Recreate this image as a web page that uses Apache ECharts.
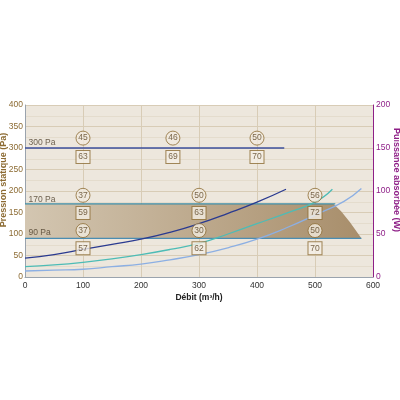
<!DOCTYPE html>
<html><head><meta charset="utf-8">
<script src="https://cdn.jsdelivr.net/npm/echarts@6/dist/echarts.min.js"></script>
<style>html,body{margin:0;padding:0;background:#fff}#c{width:400px;height:400px}</style>
</head><body><div id="c"></div>
<script>
// Data
const xTicks = [0,100,200,300,400,500,600];
const leftTicks = [0,50,100,150,200,250,300,350,400];
const rightTicks = [0,50,100,150,200];
// pressure levels (Pa)
const level300 = [[0,300],[447,300]];
const level170 = [[0,170],[535,170]];
const level90 = [[0,90],[580,90]];
// shaded operating band polygon (debit, Pa)
const bandPts = [[0,170],[532,170],[545,153],[560,128],[572,105],[580,90],[0,90]];
// power curves (W) vs debit
const curveDark = [[0,22],[50,26],[100,32],[150,38],[200,44],[250,52],[300,62],[350,74],[400,87],[450,102]];
const curveTeal = [[0,12],[50,14],[100,17],[150,21],[200,26],[250,32],[300,39],[350,50],[400,62],[450,74],[500,87],[530,102]];
const curveLight = [[0,7],[50,8],[100,9],[150,12],[200,15],[250,20],[300,26],[350,34],[400,44],[450,57],[500,72],[550,88],[580,103]];
// circled and boxed values [debit, Pa, label]
const circled = [[100,323,'45'],[255,323,'46'],[400,323,'50'],[100,190,'37'],[300,190,'50'],[500,190,'56'],[100,108,'37'],[300,108,'30'],[500,108,'50']];
const boxed = [[100,279,'63'],[255,279,'69'],[400,279,'70'],[100,149,'59'],[300,149,'63'],[500,149,'72'],[100,67,'57'],[300,67,'62'],[500,67,'70']];
const paLabels = [[6,313,'300 Pa'],[6,181,'170 Pa'],[6,103,'90 Pa']];
const axisNames = {x:'Débit (m³/h)', left:'Pression statique (Pa)', right:'Puissance absorbée (W)'};

const brown = '#8c6b33';
const purple = '#8e1f87';
const chart = echarts.init(document.getElementById('c'));
chart.setOption({
  animation:false,
  backgroundColor:'#fff',
  grid:{left:25,right:27,top:105,bottom:123,containLabel:false,outerBoundsMode:'none',backgroundColor:'#ede7dd',show:true,borderWidth:0},
  graphic:[
    {type:'text',x:4,y:180,rotation:Math.PI/2,z:10,
     style:{text:axisNames.left,fontSize:9,fontWeight:'bold',fill:brown,fontFamily:'Liberation Sans',align:'center',verticalAlign:'middle'}},
    {type:'text',x:396,y:180,rotation:-Math.PI/2,z:10,
     style:{text:axisNames.right,fontSize:9,fontWeight:'bold',fill:purple,fontFamily:'Liberation Sans',align:'center',verticalAlign:'middle'}}
  ],
  xAxis:{type:'value',min:0,max:600,interval:100,
    name:axisNames.x,nameLocation:'middle',nameGap:16,nameMoveOverlap:false,
    nameTextStyle:{fontSize:8.5,fontWeight:'bold',color:'#222',fontFamily:'Liberation Sans'},
    axisLine:{show:true,lineStyle:{color:'#9aa3ad',width:1}},axisTick:{show:false},
    axisLabel:{fontSize:8.5,color:'#333',margin:4,fontFamily:'Liberation Sans'},
    splitLine:{show:true,lineStyle:{color:'#d8ccb6',width:1}}},
  yAxis:[
    {type:'value',min:0,max:400,interval:50,position:'left',
     axisLine:{show:true,lineStyle:{color:'#9aa3ad'}},axisTick:{show:false},
     axisLabel:{fontSize:8.5,color:brown,margin:2,fontFamily:'Liberation Sans'},
     splitLine:{show:true,lineStyle:{color:'#d8ccb6'}},
     minorTick:{show:false,splitNumber:2},minorSplitLine:{show:true,lineStyle:{color:'#e4dccd'}}},
    {type:'value',min:0,max:200,interval:50,position:'right',
     axisLine:{show:true,lineStyle:{color:purple}},axisTick:{show:false},
     axisLabel:{fontSize:8.5,color:purple,margin:3,fontFamily:'Liberation Sans'},
     splitLine:{show:false}}
  ],
  series:[
    {type:'custom',yAxisIndex:0,z:1,silent:true,data:[0],
     renderItem:function(params,api){
       const pts = bandPts.map(p=>api.coord(p));
       return {type:'polygon',shape:{points:pts},
         style:{fill:new echarts.graphic.LinearGradient(0,0,1,0,[{offset:0,color:'#d3c6b1'},{offset:1,color:'#a88e6b'}])}};
     }},
    {type:'line',yAxisIndex:0,data:level300,symbol:'none',lineStyle:{color:'#3b4f9c',width:1.3},z:3},
    {type:'line',yAxisIndex:0,data:level170,symbol:'none',lineStyle:{color:'#3d8ca6',width:1.3},z:3},
    {type:'line',yAxisIndex:0,data:level90,symbol:'none',lineStyle:{color:'#4a8db2',width:1.3},z:3},
    {type:'line',yAxisIndex:1,data:curveDark,symbol:'none',smooth:true,lineStyle:{color:'#2a3a90',width:1.3},z:4},
    {type:'line',yAxisIndex:1,data:curveTeal,symbol:'none',smooth:true,lineStyle:{color:'#4dbcb6',width:1.3},z:4},
    {type:'line',yAxisIndex:1,data:curveLight,symbol:'none',smooth:true,lineStyle:{color:'#8cafe3',width:1.3},z:4},
    {type:'scatter',yAxisIndex:0,z:6,data:circled.map(d=>({value:[d[0],d[1]],label:{formatter:d[2]}})),
     symbol:'circle',symbolSize:14,itemStyle:{color:'#f1ebe0',borderColor:'#8c6b33',borderWidth:1},
     label:{show:true,position:'inside',fontSize:8.5,color:'#5b4524',fontFamily:'Liberation Sans'}},
    {type:'scatter',yAxisIndex:0,z:6,data:boxed.map(d=>({value:[d[0],d[1]],label:{formatter:d[2]}})),
     symbol:'rect',symbolSize:[14,13],itemStyle:{color:'#f4efe6',borderColor:'#8c6b33',borderWidth:1},
     label:{show:true,position:'inside',fontSize:8.5,color:'#5b4524',fontFamily:'Liberation Sans'}},
    {type:'scatter',yAxisIndex:0,z:6,data:paLabels.map(d=>({value:[d[0],d[1]],label:{formatter:d[2]}})),
     symbolSize:0,label:{show:true,position:'right',distance:0,fontSize:8.5,color:'#4a3c28',fontFamily:'Liberation Sans'}}
  ]
});
</script></body></html>
